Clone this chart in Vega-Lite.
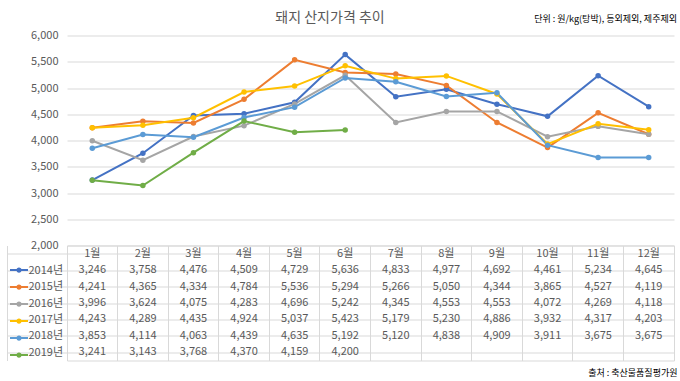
{
  "$schema": "https://vega.github.io/schema/vega-lite/v6.json",
  "background": "white",
  "padding": {"left": 6, "top": 10.5, "right": 4, "bottom": 2},
  "config": {
    "font": "Noto Sans CJK KR",
    "view": {"stroke": null},
    "axis": {"labelFont": "Noto Sans CJK KR", "labelColor": "#595959"},
    "title": {"font": "Noto Sans CJK KR", "color": "#595959", "fontWeight": "normal"}
  },
  "title": {"text": "돼지 산지가격 추이", "fontSize": 14, "anchor": "middle", "dx": -12, "offset": -10},
  "datasets": {
    "prices": [
      {"year": "2014년", "month": "1월", "price": 3246}, {"year": "2014년", "month": "2월", "price": 3758}, {"year": "2014년", "month": "3월", "price": 4476}, {"year": "2014년", "month": "4월", "price": 4509}, {"year": "2014년", "month": "5월", "price": 4729}, {"year": "2014년", "month": "6월", "price": 5636}, {"year": "2014년", "month": "7월", "price": 4833}, {"year": "2014년", "month": "8월", "price": 4977}, {"year": "2014년", "month": "9월", "price": 4692}, {"year": "2014년", "month": "10월", "price": 4461}, {"year": "2014년", "month": "11월", "price": 5234}, {"year": "2014년", "month": "12월", "price": 4645},
      {"year": "2015년", "month": "1월", "price": 4241}, {"year": "2015년", "month": "2월", "price": 4365}, {"year": "2015년", "month": "3월", "price": 4334}, {"year": "2015년", "month": "4월", "price": 4784}, {"year": "2015년", "month": "5월", "price": 5536}, {"year": "2015년", "month": "6월", "price": 5294}, {"year": "2015년", "month": "7월", "price": 5266}, {"year": "2015년", "month": "8월", "price": 5050}, {"year": "2015년", "month": "9월", "price": 4344}, {"year": "2015년", "month": "10월", "price": 3865}, {"year": "2015년", "month": "11월", "price": 4527}, {"year": "2015년", "month": "12월", "price": 4119},
      {"year": "2016년", "month": "1월", "price": 3996}, {"year": "2016년", "month": "2월", "price": 3624}, {"year": "2016년", "month": "3월", "price": 4075}, {"year": "2016년", "month": "4월", "price": 4283}, {"year": "2016년", "month": "5월", "price": 4696}, {"year": "2016년", "month": "6월", "price": 5242}, {"year": "2016년", "month": "7월", "price": 4345}, {"year": "2016년", "month": "8월", "price": 4553}, {"year": "2016년", "month": "9월", "price": 4553}, {"year": "2016년", "month": "10월", "price": 4072}, {"year": "2016년", "month": "11월", "price": 4269}, {"year": "2016년", "month": "12월", "price": 4118},
      {"year": "2017년", "month": "1월", "price": 4243}, {"year": "2017년", "month": "2월", "price": 4289}, {"year": "2017년", "month": "3월", "price": 4435}, {"year": "2017년", "month": "4월", "price": 4924}, {"year": "2017년", "month": "5월", "price": 5037}, {"year": "2017년", "month": "6월", "price": 5423}, {"year": "2017년", "month": "7월", "price": 5179}, {"year": "2017년", "month": "8월", "price": 5230}, {"year": "2017년", "month": "9월", "price": 4886}, {"year": "2017년", "month": "10월", "price": 3932}, {"year": "2017년", "month": "11월", "price": 4317}, {"year": "2017년", "month": "12월", "price": 4203},
      {"year": "2018년", "month": "1월", "price": 3853}, {"year": "2018년", "month": "2월", "price": 4114}, {"year": "2018년", "month": "3월", "price": 4063}, {"year": "2018년", "month": "4월", "price": 4439}, {"year": "2018년", "month": "5월", "price": 4635}, {"year": "2018년", "month": "6월", "price": 5192}, {"year": "2018년", "month": "7월", "price": 5120}, {"year": "2018년", "month": "8월", "price": 4838}, {"year": "2018년", "month": "9월", "price": 4909}, {"year": "2018년", "month": "10월", "price": 3911}, {"year": "2018년", "month": "11월", "price": 3675}, {"year": "2018년", "month": "12월", "price": 3675},
      {"year": "2019년", "month": "1월", "price": 3241}, {"year": "2019년", "month": "2월", "price": 3143}, {"year": "2019년", "month": "3월", "price": 3768}, {"year": "2019년", "month": "4월", "price": 4370}, {"year": "2019년", "month": "5월", "price": 4159}, {"year": "2019년", "month": "6월", "price": 4200}
    ],
    "months": [{"month": "1월"}, {"month": "2월"}, {"month": "3월"}, {"month": "4월"}, {"month": "5월"}, {"month": "6월"}, {"month": "7월"}, {"month": "8월"}, {"month": "9월"}, {"month": "10월"}, {"month": "11월"}, {"month": "12월"}]
  },
  "columns": 1,
  "bounds": "flush",
  "spacing": 0,
  "concat": [
    {
      "width": 607,
      "height": 210,
      "title": {"text": "단위 : 원/kg(탕박), 등외제외, 제주제외", "fontSize": 9, "anchor": "end", "offset": 5.5, "dx": 3, "color": "#000000"},
      "data": {"name": "prices"},
      "mark": {"type": "line", "strokeWidth": 2, "point": {"filled": true, "size": 30}},
      "encoding": {
        "x": {"field": "month", "type": "ordinal", "sort": ["1월", "2월", "3월", "4월", "5월", "6월", "7월", "8월", "9월", "10월", "11월", "12월"], "scale": {"type": "point", "padding": 0.5}, "axis": null},
        "y": {"field": "price", "type": "quantitative", "scale": {"domain": [2000, 6000]}, "axis": {"values": [2000, 2500, 3000, 3500, 4000, 4500, 5000, 5500, 6000], "format": ",.0f", "domain": false, "ticks": false, "labelPadding": 9, "labelFontSize": 11, "gridColor": "#D9D9D9", "minExtent": 60, "title": null}},
        "color": {
          "field": "year", "type": "nominal",
          "scale": {"domain": ["2014년", "2015년", "2016년", "2017년", "2018년", "2019년"], "range": ["#4472C4", "#ED7D31", "#A5A5A5", "#FFC000", "#5B9BD5", "#70AD47"]},
          "legend": {
            "orient": "none", "legendX": -58, "legendY": 226.4, "direction": "vertical",
            "title": null, "padding": 0, "rowPadding": 0, "clipHeight": 16.43,
            "symbolType": "M-1,0H1M-0.18,0A0.18,0.18,0,1,0,0.18,0A0.18,0.18,0,1,0,-0.18,0Z",
            "symbolSize": 324, "symbolStrokeWidth": 2, "symbolOpacity": 1,
            "labelExpr": "''", "labelOffset": 0,
            "encode": {"symbols": {"update": {"fill": {"scale": "color", "field": "value"}, "stroke": {"scale": "color", "field": "value"}}}}
          }
        }
      }
    },
    {
      "width": 607,
      "height": 115,
      "view": {"stroke": "#D9D9D9"},
      "title": {"text": "출처 : 축산물품질평가원", "orient": "bottom", "anchor": "end", "fontSize": 9, "offset": 8, "dx": 3, "color": "#000000"},
      "layer": [
        {
          "data": {"name": "prices"},
          "mark": {"type": "text", "fontSize": 11, "color": "#595959"},
          "encoding": {
            "x": {"field": "month", "type": "ordinal", "scale": {"type": "band", "domain": ["1월", "2월", "3월", "4월", "5월", "6월", "7월", "8월", "9월", "10월", "11월", "12월"], "paddingInner": 0, "paddingOuter": 0}, "axis": {"grid": true, "gridColor": "#D9D9D9", "bandPosition": 0, "labels": false, "ticks": false, "domain": false, "title": null}},
            "y": {
              "field": "year", "type": "nominal",
              "scale": {"domain": ["head", "2014년", "2015년", "2016년", "2017년", "2018년", "2019년"], "paddingInner": 0, "paddingOuter": 0},
              "axis": {
                "offset": 60, "bandPosition": 1, "ticks": true, "tickSize": -667, "tickColor": "#D9D9D9", "tickWidth": 1, "tickOpacity": 1,
                "domain": true, "domainColor": "#D9D9D9", "grid": false,
                "labelExpr": "datum.value === 'head' ? '' : datum.value",
                "labelAlign": "left", "labelPadding": 646, "labelOffset": 0, "labelFontSize": 11, "labelColor": "#595959", "title": null
              }
            },
            "text": {"field": "price", "type": "quantitative", "format": ","}
          }
        },
        {
          "data": {"name": "months"},
          "mark": {"type": "text", "fontSize": 11, "color": "#595959"},
          "encoding": {
            "x": {"field": "month", "type": "ordinal"},
            "y": {"datum": "head"},
            "text": {"field": "month"}
          }
        }
      ]
    }
  ]
}
